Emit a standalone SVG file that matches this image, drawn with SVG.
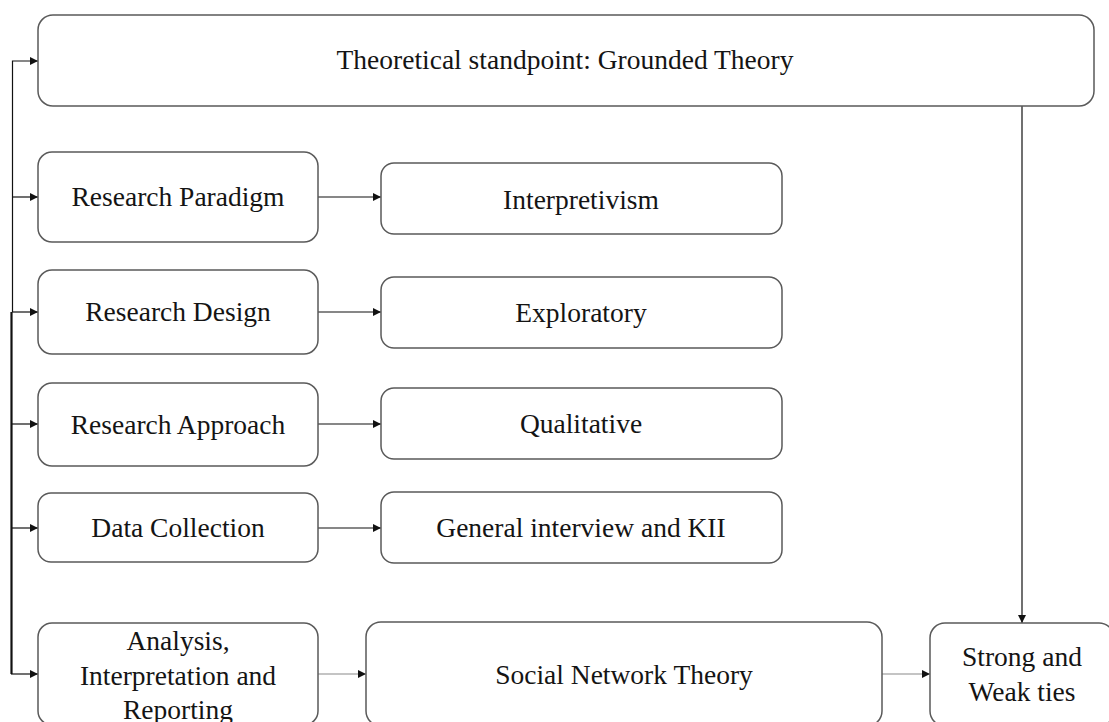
<svg xmlns="http://www.w3.org/2000/svg" width="1109" height="722" viewBox="0 0 1109 722">
  <style>
    .box { fill: #ffffff; stroke: #5a5a5a; stroke-width: 1.5; }
    .lbl { font-family: "Liberation Serif", "Times New Roman", serif; font-size: 27.5px; fill: #141414; text-anchor: middle; }
    .edge { fill: none; stroke: #111111; stroke-width: 1.2; }
    .edge-light { fill: none; stroke: #8a8a8a; stroke-width: 1.2; }
    .trunk { fill: none; stroke: #111111; stroke-width: 2.2; }
  </style>
  <defs>
    <marker id="arrow" viewBox="0 0 10 10" refX="10" refY="5" markerWidth="8" markerHeight="8" markerUnits="userSpaceOnUse" orient="auto">
      <path d="M0,0 L10,5 L0,10 z" fill="#111111"/>
    </marker>
  </defs>

  <rect width="1109" height="722" fill="#ffffff"/>

  <!-- connectors -->
  <g id="connectors">
    <!-- left spine feeding the left column -->
    <path class="edge" d="M12.5,312 V61 H38" marker-end="url(#arrow)"/>
    <path class="trunk" d="M11.5,312 V674"/>
    <path class="edge" d="M12,197 H38" marker-end="url(#arrow)"/>
    <path class="edge" d="M12,312 H38" marker-end="url(#arrow)"/>
    <path class="edge" d="M12,424 H38" marker-end="url(#arrow)"/>
    <path class="edge" d="M12,528 H38" marker-end="url(#arrow)"/>
    <path class="edge" d="M11,674 H38" marker-end="url(#arrow)"/>
    <!-- left column to right column -->
    <path class="edge" d="M318,197 H381" marker-end="url(#arrow)"/>
    <path class="edge" d="M318,312 H381" marker-end="url(#arrow)"/>
    <path class="edge" d="M318,424 H381" marker-end="url(#arrow)"/>
    <path class="edge" d="M318,528 H381" marker-end="url(#arrow)"/>
    <path class="edge-light" d="M318,674 H366" marker-end="url(#arrow)"/>
    <path class="edge-light" d="M882,674 H930" marker-end="url(#arrow)"/>
    <!-- grounded theory down to ties -->
    <path class="edge" d="M1022,106 V623" marker-end="url(#arrow)"/>
  </g>

  <g id="node-grounded-theory">
    <rect class="box" x="38" y="15" width="1056" height="91" rx="15"/>
    <text class="lbl" x="565" y="69">Theoretical standpoint: Grounded Theory</text>
  </g>

  <g id="node-research-paradigm">
    <rect class="box" x="38" y="152" width="280" height="90" rx="14"/>
    <text class="lbl" x="178" y="206">Research Paradigm</text>
  </g>
  <g id="node-interpretivism">
    <rect class="box" x="381" y="163" width="401" height="71" rx="13"/>
    <text class="lbl" x="581" y="209">Interpretivism</text>
  </g>

  <g id="node-research-design">
    <rect class="box" x="38" y="270" width="280" height="84" rx="14"/>
    <text class="lbl" x="178" y="321">Research Design</text>
  </g>
  <g id="node-exploratory">
    <rect class="box" x="381" y="277" width="401" height="71" rx="13"/>
    <text class="lbl" x="581" y="322">Exploratory</text>
  </g>

  <g id="node-research-approach">
    <rect class="box" x="38" y="383" width="280" height="83" rx="14"/>
    <text class="lbl" x="178" y="434">Research Approach</text>
  </g>
  <g id="node-qualitative">
    <rect class="box" x="381" y="388" width="401" height="71" rx="13"/>
    <text class="lbl" x="581" y="433">Qualitative</text>
  </g>

  <g id="node-data-collection">
    <rect class="box" x="38" y="493" width="280" height="69" rx="13"/>
    <text class="lbl" x="178" y="537">Data Collection</text>
  </g>
  <g id="node-interviews">
    <rect class="box" x="381" y="492" width="401" height="71" rx="13"/>
    <text class="lbl" x="581" y="537">General interview and KII</text>
  </g>

  <g id="node-analysis">
    <rect class="box" x="38" y="623" width="280" height="102" rx="14"/>
    <text class="lbl" x="178" y="650">Analysis,</text>
    <text class="lbl" x="178" y="685">Interpretation and</text>
    <text class="lbl" x="178" y="719">Reporting</text>
  </g>

  <g id="node-social-network">
    <rect class="box" x="366" y="622" width="516" height="104" rx="15"/>
    <text class="lbl" x="624" y="684">Social Network Theory</text>
  </g>

  <g id="node-ties">
    <rect class="box" x="930" y="623" width="184" height="103" rx="15"/>
    <text class="lbl" x="1022" y="666">Strong and</text>
    <text class="lbl" x="1022" y="701">Weak ties</text>
  </g>
</svg>
